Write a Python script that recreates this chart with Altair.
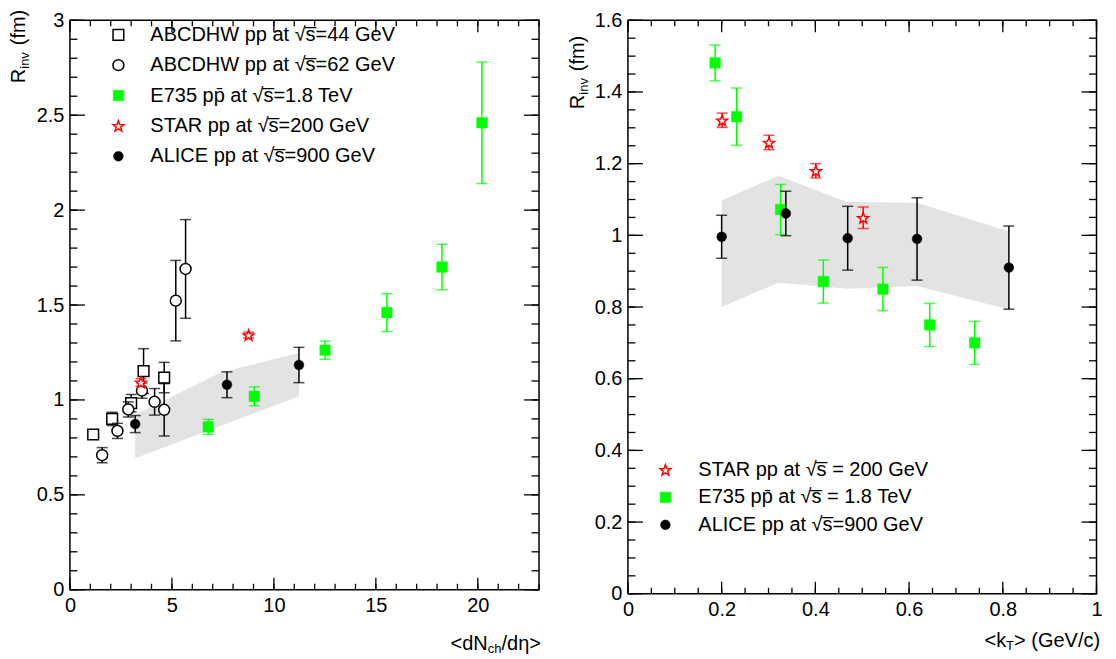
import math
import altair as alt
import pandas as pd

FONT = "Liberation Sans"
FS = 20
GREEN = "#00ff00"
RED = "#ff0000"
BAND = "#e3e3e3"

# ---------------- left panel: R_inv vs <dNch/deta> ----------------
abc44_x = [1.14, 2.07, 3.00, 3.61, 4.62]
abc44_y = [0.818, 0.900, 0.983, 1.152, 1.118]
abc44_e = [0.020, 0.035, 0.045, 0.118, 0.080]

abc62_x = [1.58, 2.33, 2.86, 3.53, 4.15, 4.62, 5.19, 5.67]
abc62_y = [0.709, 0.837, 0.950, 1.049, 0.990, 0.948, 1.523, 1.690]
abc62_e = [0.040, 0.040, 0.040, 0.040, 0.070, 0.138, 0.212, 0.260]

e735L_x = [6.78, 9.04, 12.51, 15.54, 18.24, 20.20]
e735L_y = [0.858, 1.019, 1.262, 1.460, 1.700, 2.460]
e735L_e = [0.040, 0.050, 0.048, 0.100, 0.120, 0.320]

starL_x = [3.48, 8.76]
starL_y = [1.092, 1.342]
starL_e = [0.020, 0.015]

aliceL_x = [3.20, 7.70, 11.23]
aliceL_y = [0.873, 1.080, 1.184]
aliceL_e = [0.045, 0.068, 0.093]

bandL_x = [3.20, 7.39, 11.23]
bandL_lo = [0.693, 0.863, 1.019]
bandL_hi = [0.922, 1.144, 1.248]

# ---------------- right panel: R_inv vs <kT> ----------------
starR_x = [0.201, 0.301, 0.401, 0.502]
starR_y = [1.321, 1.259, 1.180, 1.049]
starR_e = [0.020, 0.020, 0.020, 0.030]

e735R_x = [0.186, 0.232, 0.326, 0.417, 0.544, 0.644, 0.740]
e735R_y = [1.481, 1.331, 1.072, 0.871, 0.850, 0.750, 0.700]
e735R_e = [0.050, 0.080, 0.070, 0.060, 0.060, 0.060, 0.060]

aliceR_x = [0.200, 0.337, 0.469, 0.617, 0.813]
aliceR_y = [0.996, 1.061, 0.992, 0.990, 0.910]
aliceR_e = [0.060, 0.062, 0.089, 0.115, 0.116]

bandR_x = [0.200, 0.321, 0.468, 0.617, 0.813]
bandR_lo = [0.800, 0.868, 0.851, 0.859, 0.793]
bandR_hi = [1.097, 1.166, 1.093, 1.091, 1.011]

# ---------------- axes ticks ----------------
L_xmaj = [0, 5, 10, 15, 20]
L_xmin = list(range(0, 24))
L_ymaj = [0, 0.5, 1, 1.5, 2, 2.5, 3]
L_ymin = [round(i * 0.1, 2) for i in range(0, 31)]
R_xmaj = [0, 0.2, 0.4, 0.6, 0.8, 1]
R_xmin = [round(i * 0.05, 2) for i in range(0, 21)]
R_ymaj = [0, 0.2, 0.4, 0.6, 0.8, 1, 1.2, 1.4, 1.6]
R_ymin = [round(i * 0.05, 2) for i in range(0, 33)]

SQ = "√s\u0305"
legL_labels = [f"ABCDHW pp at {SQ}=44 GeV", f"ABCDHW pp at {SQ}=62 GeV",
               f"E735 pp\u0304 at  {SQ}=1.8 TeV", f"STAR pp at {SQ}=200 GeV",
               f"ALICE pp at {SQ}=900 GeV"]
legR_labels = [f"STAR pp at {SQ} = 200 GeV", f"E735 pp\u0304 at {SQ} = 1.8 TeV",
               f"ALICE pp at {SQ}=900 GeV"]

# star marker path (unit box)
_pts = []
for k in range(10):
    r = 1.0 if k % 2 == 0 else 0.42
    a = math.pi * k / 5
    _pts.append((r * math.sin(a), -r * math.cos(a) + 0.1))
STAR = "M" + " L".join(f"{x:.3f},{y:.3f}" for x, y in _pts) + " Z"

STYLES = {
    "sq_open": dict(shape="square", fill="white", stroke="black", size=115, sw=1.5, ecol="black"),
    "ci_open": dict(shape="circle", fill="white", stroke="black", size=120, sw=1.5, ecol="black"),
    "sq_green": dict(shape="square", fill=GREEN, stroke=GREEN, size=110, sw=0.5, ecol=GREEN),
    "star": dict(shape=STAR, fill="white", stroke=RED, size=130, sw=1.5, ecol=RED),
    "ci_black": dict(shape="circle", fill="black", stroke="black", size=95, sw=0.5, ecol="black"),
}


def mk_axis(vals, pad):
    return alt.Axis(values=vals, ticks=False, tickSize=0, domain=False, grid=False,
                    labelFont=FONT, labelFontSize=FS, labelColor="black",
                    labelPadding=pad, labelFlush=False, labelOverlap=False,
                    format="~g", title="")


def panel(series, band, xdom, ydom, ticks, W, H, legend, lx, ltx, ly0, ldy,
          ytitle, xtitle):
    xs = alt.Scale(domain=xdom, nice=False, zero=False)
    ys = alt.Scale(domain=ydom, nice=False, zero=False)
    xax = mk_axis(ticks[0], 6)
    yax = mk_axis(ticks[2], 6)
    X = lambda f: alt.X(f, type="quantitative", scale=xs, axis=xax)
    Y = lambda f: alt.Y(f, type="quantitative", scale=ys, axis=yax)
    layers = []
    bx, blo, bhi = band
    bdf = pd.DataFrame({"x": bx, "lo": blo, "hi": bhi})
    layers.append(alt.Chart(bdf).mark_area(color=BAND, opacity=1).encode(
        x=X("x"), y=Y("lo"), y2="hi"))
    # inward ticks on all four sides
    xmaj, xmin, ymaj, ymin = ticks
    for vals, L in [(xmin, 6), (xmaj, 12)]:
        d = pd.DataFrame({"v": vals})
        r = alt.Chart(d).mark_rule(color="black", strokeWidth=1.3)
        layers.append(r.encode(x=X("v"), y=alt.value(H), y2=alt.value(H - L)))
        layers.append(r.encode(x=X("v"), y=alt.value(0), y2=alt.value(L)))
    for vals, L in [(ymin, 7.5), (ymaj, 15)]:
        d = pd.DataFrame({"v": vals})
        r = alt.Chart(d).mark_rule(color="black", strokeWidth=1.3)
        layers.append(r.encode(y=Y("v"), x=alt.value(0), x2=alt.value(L)))
        layers.append(r.encode(y=Y("v"), x=alt.value(W), x2=alt.value(W - L)))
    # data series
    for (sx, sy, se, st) in series:
        s = STYLES[st]
        df = pd.DataFrame({"x": sx, "y": sy, "e": se})
        df["lo"] = df["y"] - df["e"]
        df["hi"] = df["y"] + df["e"]
        base = alt.Chart(df)
        layers.append(base.mark_rule(color=s["ecol"], strokeWidth=1.5).encode(
            x=X("x"), y=Y("lo"), y2="hi"))
        layers.append(base.mark_tick(color=s["ecol"], orient="horizontal", size=11,
                                     thickness=1.5).encode(x=X("x"), y=Y("lo")))
        layers.append(base.mark_tick(color=s["ecol"], orient="horizontal", size=11,
                                     thickness=1.5).encode(x=X("x"), y=Y("hi")))
        layers.append(base.mark_point(shape=s["shape"], filled=True, fill=s["fill"],
                                      stroke=s["stroke"], strokeWidth=s["sw"],
                                      size=s["size"], opacity=1).encode(
            x=X("x"), y=Y("y")))
    # legend
    for i, (lab, st) in enumerate(legend):
        s = STYLES[st]
        d = pd.DataFrame({"lab": [lab]})
        yy = ly0 + i * ldy
        layers.append(alt.Chart(d).mark_point(shape=s["shape"], filled=True, fill=s["fill"],
                                               stroke=s["stroke"], strokeWidth=s["sw"],
                                               size=s["size"], opacity=1).encode(
            x=alt.value(lx), y=alt.value(yy)))
        layers.append(alt.Chart(d).mark_text(align="left", baseline="middle", font=FONT,
                                              fontSize=FS, color="black").encode(
            x=alt.value(ltx), y=alt.value(yy), text="lab:N"))
    # titles made of pieces (subscripts)
    dummy = pd.DataFrame({"a": [0]})
    for (txt, px, py, fs, ang) in ytitle + xtitle:
        layers.append(alt.Chart(dummy).mark_text(text=txt, align="left", baseline="alphabetic",
                                                  font=FONT, fontSize=fs,
                                                  color="black").encode(
            x=alt.value(px), y=alt.value(py), angle=alt.value(ang)))
    return alt.layer(*layers).properties(width=W, height=H)


W1, H1 = 469.5, 570
W2, H2 = 469, 574

left = panel(
    series=[
        (abc44_x, abc44_y, abc44_e, "sq_open"),
        (abc62_x, abc62_y, abc62_e, "ci_open"),
        (e735L_x, e735L_y, e735L_e, "sq_green"),
        (starL_x, starL_y, starL_e, "star"),
        (aliceL_x, aliceL_y, aliceL_e, "ci_black"),
    ],
    band=(bandL_x, bandL_lo, bandL_hi),
    xdom=[0, 23], ydom=[0, 3],
    ticks=(L_xmaj, L_xmin, L_ymaj, L_ymin), W=W1, H=H1,
    legend=list(zip(legL_labels, ["sq_open", "ci_open", "sq_green", "star", "ci_black"])),
    lx=48.5, ltx=80.5, ly0=14.5, ldy=30.4,
    ytitle=[("R", -45, 63, FS, 270), ("inv", -41, 48.5, 13, 270), ("(fm)", -45, 25, FS, 270)],
    xtitle=[("<dN", 381, 630, FS, 0), ("ch", 418.3, 633.5, 13, 0), ("/dη>", 432, 630, FS, 0)],
)

right = panel(
    series=[
        (starR_x, starR_y, starR_e, "star"),
        (e735R_x, e735R_y, e735R_e, "sq_green"),
        (aliceR_x, aliceR_y, aliceR_e, "ci_black"),
    ],
    band=(bandR_x, bandR_lo, bandR_hi),
    xdom=[0, 1], ydom=[0, 1.6],
    ticks=(R_xmaj, R_xmin, R_ymaj, R_ymin), W=W2, H=H2,
    legend=list(zip(legR_labels, ["star", "sq_green", "ci_black"])),
    lx=37.5, ltx=70.5, ly0=450, ldy=27.5,
    ytitle=[("R", -43.5, 89, FS, 270), ("inv", -39.5, 74.5, 13, 270), ("(fm)", -43.5, 51, FS, 270)],
    xtitle=[("<k", 357, 627, FS, 0), ("T", 378.5, 630.5, 13, 0), ("> (GeV/c)", 386.5, 627, FS, 0)],
)

chart = alt.hconcat(left, right, spacing=88.5, bounds="flush").properties(
    padding={"left": 0, "top": 0, "right": 5, "bottom": 0}
).configure_view(stroke="black", strokeWidth=1.5)

chart.save("out.html", embed_options={"renderer": "svg", "actions": False})
